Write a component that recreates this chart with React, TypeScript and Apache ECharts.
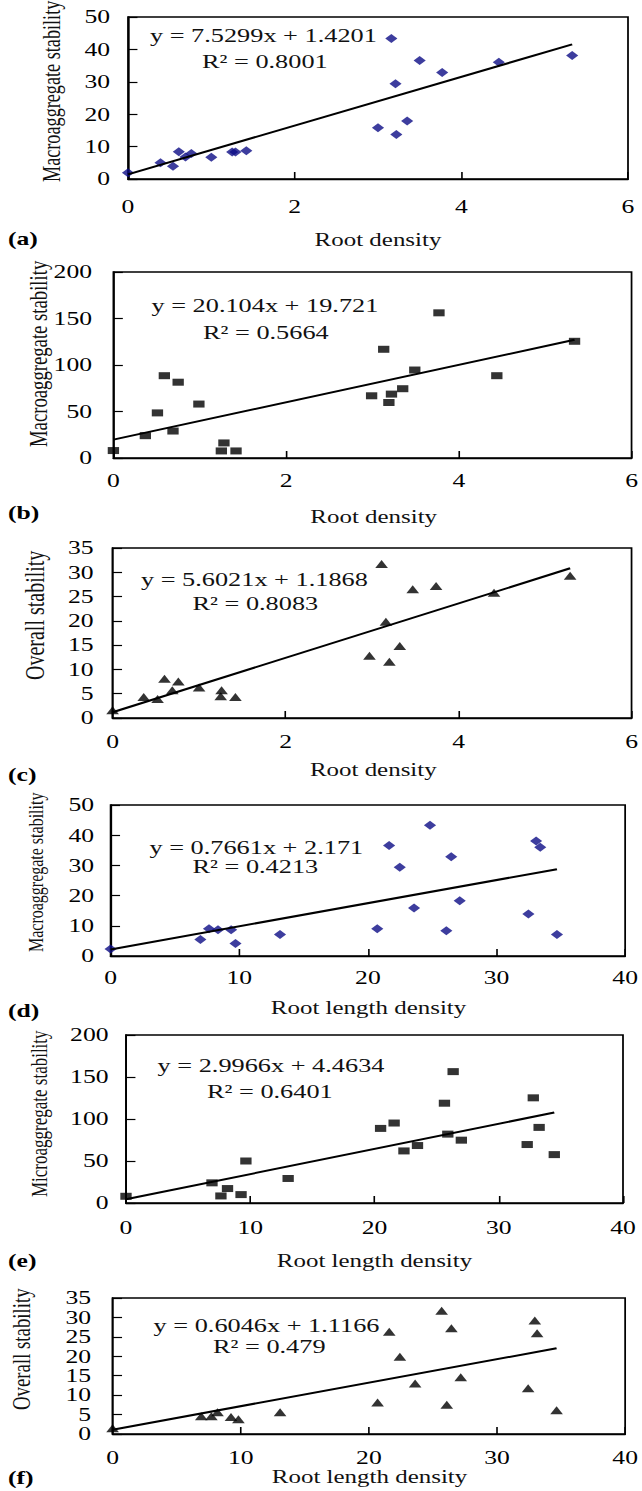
import React, { useEffect, useRef } from "react";
import * as echarts from "echarts";

// ---------- data ----------
const aRootDensity = [0, 0.39, 0.54, 0.61, 0.69, 0.76, 1.0, 1.25, 1.29, 1.42, 3.0, 3.16, 3.21, 3.22, 3.35, 3.5, 3.77, 4.45, 5.33];
const aMacroStability = [1.9, 5.0, 3.9, 8.4, 6.8, 7.9, 6.7, 8.3, 8.3, 8.7, 15.8, 43.4, 29.4, 13.7, 17.9, 36.6, 32.9, 36.0, 38.1];

const bRootDensity = [0, 0.37, 0.51, 0.59, 0.69, 0.75, 0.99, 1.25, 1.28, 1.42, 2.99, 3.13, 3.19, 3.22, 3.35, 3.49, 3.77, 4.44, 5.34];
const bMacroStability = [8, 24, 48.5, 88.5, 29, 81.5, 58, 7.6, 16.2, 7.6, 66.9, 116.9, 59.7, 68.7, 74.5, 94.6, 156.1, 88.5, 125.5];

const cRootDensity = [0, 0.36, 0.52, 0.6, 0.69, 0.76, 1.0, 1.26, 1.25, 1.42, 2.97, 3.11, 3.16, 3.2, 3.32, 3.47, 3.74, 4.41, 5.29];
const cOverallStability = [1.6, 4.3, 3.9, 8.1, 5.7, 7.5, 6.3, 5.7, 4.5, 4.3, 12.8, 31.7, 19.8, 11.6, 14.8, 26.5, 27.2, 25.8, 29.3];

const dRootLength = [0, 6.98, 7.65, 8.35, 9.37, 9.71, 13.17, 20.73, 21.65, 22.48, 23.59, 24.83, 26.1, 26.48, 27.14, 32.48, 33.08, 33.4, 34.7];
const dMacroStability = [2.3, 5.5, 9.0, 8.7, 8.7, 4.1, 7.1, 9.0, 36.6, 29.4, 15.9, 43.3, 8.4, 32.9, 18.3, 13.9, 38.1, 36.0, 7.1];

const eRootLength = [0, 6.92, 7.64, 8.17, 9.26, 9.65, 13.05, 20.49, 21.58, 22.37, 23.46, 25.63, 25.9, 26.33, 26.99, 32.29, 32.78, 33.25, 34.47];
const eMicroStability = [8.0, 24.0, 8.4, 17.2, 10.0, 50.0, 29.2, 88.8, 95.2, 62.0, 68.4, 118.8, 82.0, 156.4, 74.8, 69.6, 125.2, 90.0, 57.6];

const fRootLength = [0, 6.92, 7.71, 8.19, 9.24, 9.82, 13.07, 20.68, 21.59, 22.42, 23.61, 25.68, 26.08, 26.44, 27.17, 32.43, 32.95, 33.13, 34.65];
const fOverallStability = [1.5, 4.6, 4.6, 5.6, 4.4, 3.8, 5.6, 8.1, 26.3, 19.9, 13.0, 31.7, 7.5, 27.2, 14.6, 11.8, 29.2, 25.9, 6.1];

const slopes = [7.5299, 20.104, 5.6021, 0.7661, 2.9966, 0.6046];
const intercepts = [1.4201, 19.721, 1.1868, 2.171, 4.4634, 1.1166];
const rSquared = ["0.8001", "0.5664", "0.8083", "0.4213", "0.6401", "0.479"];

const panelLetters = ["(a)", "(b)", "(c)", "(d)", "(e)", "(f)"];
const xTitles = ["Root density", "Root density", "Root density", "Root length density", "Root length density", "Root length density"];
const yTitles = [
  "Macroaggregate stability",
  "Macroaggregate stability",
  "Overall stability",
  "Macroaggregate stability",
  "Microaggregate stability",
  "Overall stability",
];
const yMax = [50, 200, 35, 50, 200, 35];
const yInterval = [10, 50, 5, 10, 50, 5];
const xMax = [6, 6, 6, 40, 40, 40];
const xInterval = [2, 2, 2, 10, 10, 10];

const xsList = [aRootDensity, bRootDensity, cRootDensity, dRootLength, eRootLength, fRootLength];
const ysList = [aMacroStability, bMacroStability, cOverallStability, dMacroStability, eMicroStability, fOverallStability];

// ---------- layout (visual px of the 642-wide picture) ----------
const W = 476;
const S = 642 / W; // horizontal stretch of the original figure
const u = (x: number) => x / S;

const grids = [
  { l: 128, r: 628, t: 17, b: 179 },
  { l: 113.4, r: 634, t: 272, b: 458 },
  { l: 112.6, r: 634, t: 548, b: 718 },
  { l: 110.6, r: 626.5, t: 805, b: 956 },
  { l: 126, r: 623, t: 1035, b: 1203 },
  { l: 112.6, r: 626.5, t: 1298, b: 1434 },
];
const yLabelGap = [18, 21.4, 19, 16.6, 17.5, 21.6];
const xLabelGap = [18, 13, 14, 12, 15, 14];
const eqPos = [
  [[150, 35], [202, 61.5]],
  [[151.5, 305.7], [203, 332]],
  [[141, 579], [192.5, 603]],
  [[149.5, 847], [192.5, 866]],
  [[157.6, 1065.7], [207, 1091.7]],
  [[153.6, 1325.7], [213, 1346.7]],
];
const yTitlePos = [
  [52, 182, 18.2],
  [38, 447, 18.7],
  [35, 680, 20],
  [36, 952, 16],
  [39, 1197, 17],
  [21.5, 1410, 18.8],
];
const xTitleY = [240, 517, 770, 1008, 1261, 1477];
const letterY = [239, 513, 775, 1011, 1261, 1478];

const symbols = ["diamond", "rect", "triangle", "diamond", "rect", "triangle"];
const symbolSizes = [[9, 9], [8.4, 7], [9.4, 8], [9, 9], [8.4, 7], [9.4, 8]];
const colors = ["#0c0c86", "#000", "#000", "#0c0c86", "#000", "#000"];

const FONT = "Liberation Serif, Times New Roman, serif";

function buildOption() {
  const grid: any[] = [];
  const xAxis: any[] = [];
  const yAxis: any[] = [];
  const series: any[] = [];
  const graphic: any[] = [];

  for (let i = 0; i < 6; i++) {
    const g = grids[i];
    grid.push({
      left: u(g.l),
      top: g.t,
      width: u(g.r) - u(g.l),
      height: g.b - g.t,
      show: true,
      borderColor: "#000",
      borderWidth: 1.3,
      containLabel: false,
    });
    xAxis.push({
      type: "value",
      gridIndex: i,
      min: 0,
      max: xMax[i],
      interval: xInterval[i],
      axisLine: { show: true, onZero: false, lineStyle: { color: "#000", width: 1.3 } },
      axisTick: { show: true, inside: true, length: 7, lineStyle: { color: "#000", width: 1.2 } },
      axisLabel: { color: "#000", fontFamily: FONT, fontSize: 19, margin: xLabelGap[i] },
      splitLine: { show: false },
    });
    yAxis.push({
      type: "value",
      gridIndex: i,
      min: 0,
      max: yMax[i],
      interval: yInterval[i],
      axisLine: { show: true, onZero: false, lineStyle: { color: "#000", width: 1.3 } },
      axisTick: { show: true, inside: true, length: 7, lineStyle: { color: "#000", width: 1.2 } },
      axisLabel: { color: "#000", fontFamily: FONT, fontSize: 19, margin: u(yLabelGap[i]) },
      splitLine: { show: false },
    });

    const xs = xsList[i];
    const ys = ysList[i];
    series.push({
      type: "scatter",
      xAxisIndex: i,
      yAxisIndex: i,
      symbol: symbols[i],
      symbolSize: symbolSizes[i],
      itemStyle: { color: colors[i] },
      data: xs.map((x, k) => [x, ys[k]]),
      z: 3,
    });
    const xEnd = Math.max(...xs);
    series.push({
      type: "line",
      xAxisIndex: i,
      yAxisIndex: i,
      symbol: "none",
      lineStyle: { color: "#000", width: 2 },
      data: [
        [0, intercepts[i]],
        [xEnd, slopes[i] * xEnd + intercepts[i]],
      ],
      z: 4,
    });

    const eq1 = `y = ${slopes[i]}x + ${intercepts[i]}`;
    const eq2 = `R² = ${rSquared[i]}`;
    const ep = eqPos[i];
    [eq1, eq2].forEach((t, k) => {
      graphic.push({
        type: "text",
        x: u(ep[k][0]),
        y: ep[k][1],
        style: {
          text: t,
          fontFamily: FONT,
          fontSize: 19.5,
          fill: "#111",
          align: "left",
          verticalAlign: "middle",
          textAlign: "left",
          textVerticalAlign: "middle",
        },
        z: 10,
      });
    });

    const yt = yTitlePos[i];
    graphic.push({
      type: "text",
      x: u(yt[0]),
      y: yt[1],
      rotation: Math.PI / 2,
      style: {
        text: yTitles[i],
        fontFamily: FONT,
        fontSize: yt[2],
        fill: "#111",
        align: "left",
        verticalAlign: "middle",
        textAlign: "left",
        textVerticalAlign: "middle",
      },
    });

    graphic.push({
      type: "text",
      x: (u(g.l) + u(g.r)) / 2,
      y: xTitleY[i],
      style: {
        text: xTitles[i],
        fontFamily: FONT,
        fontSize: 18.5,
        fill: "#111",
        align: "center",
        verticalAlign: "middle",
        textAlign: "center",
        textVerticalAlign: "middle",
      },
    });

    graphic.push({
      type: "text",
      x: u(8),
      y: letterY[i],
      style: {
        text: panelLetters[i],
        fontFamily: FONT,
        fontSize: 19,
        fontWeight: "bold",
        fill: "#000",
        align: "left",
        verticalAlign: "middle",
        textAlign: "left",
        textVerticalAlign: "middle",
      },
    });
  }

  return {
    animation: false,
    backgroundColor: "#fff",
    grid,
    xAxis,
    yAxis,
    series,
    graphic: { elements: graphic },
  };
}

export default function App() {
  const ref = useRef<HTMLDivElement>(null);
  useEffect(() => {
    if (!ref.current) return;
    const chart = echarts.init(ref.current, undefined, { renderer: "svg" });
    chart.setOption(buildOption() as any);
    return () => chart.dispose();
  }, []);
  return (
    <div
      ref={ref}
      style={{
        position: "absolute",
        left: 0,
        top: 0,
        width: W,
        height: 1491,
        transform: `scaleX(${S})`,
        transformOrigin: "0 0",
      }}
    />
  );
}
